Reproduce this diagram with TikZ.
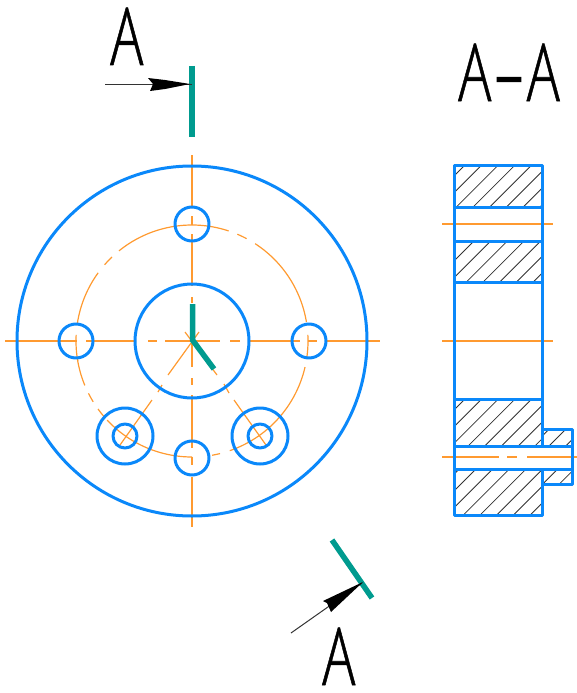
\documentclass[tikz,border=0pt]{standalone}
\usepackage{fontspec}
\setmainfont[FakeBold=0.8]{Open Sans Light}
\newfontfamily\dashfont[FakeBold=2.5]{Open Sans Light}
\definecolor{partblue}{HTML}{0A88FA}
\definecolor{axisorange}{HTML}{FF9A30}
\definecolor{cutteal}{HTML}{009B8F}
\tikzset{
  outline/.style={draw=partblue,line width=3pt,line join=round},
  axisline/.style={draw=axisorange,line width=1.2pt},
  hatchline/.style={draw=black!80,line width=.8pt},
  cutmark/.style={draw=cutteal,line width=5.5pt,line join=round},
  viewline/.style={draw=black!80,line width=1pt},
  letter/.style={anchor=base west,inner sep=0pt,font=\fontsize{80}{80}\selectfont}
}
\newcommand{\pcdarc}[2]{\draw[axisline] plot[domain=#1:#2,samples=30] ({192+116*cos(\x)},{341-116*sin(\x)});}
\newcommand{\hatchbox}[5]{%
  \begin{scope}
    \clip (#1,#2) rectangle (#3,#4);
    \foreach \k in {-5,...,10}{
      \pgfmathsetmacro{\cc}{#5+16.7*\k}
      \draw[hatchline] ({\cc-#2},#2) -- ({\cc-#4},#4);
    }
  \end{scope}}
\begin{document}
\begin{tikzpicture}[x=1pt,y=-1pt]
\useasboundingbox (0,0) rectangle (577,693);
% front view axes
\foreach \a/\b in {5/77,86/135,148/157,165/220,230/240,250/300,308/317,326/380}
  \draw[axisline] (\a,341) -- (\b,341);
\foreach \a/\b in {155/208,216/225,234/286,297/303,341/367,378/385,395/448,457/465,477/527}
  \draw[axisline] (192,\a) -- (192,\b);
% diagonals
\draw[axisline] (199,332) -- (168,375);
\draw[axisline] (162,385) -- (158,392);
\draw[axisline] (152,400) -- (120,445);
\draw[axisline] (185,332) -- (217,375);
\draw[axisline] (224,384) -- (229,393);
\draw[axisline] (234,400) -- (266,445);
% pitch circle
\pcdarc{71.6}{90}
\pcdarc{129}{90}
\pcdarc{133.6}{138.9}
\pcdarc{144}{171}
\pcdarc{177}{190}
\pcdarc{189.5}{202.5}
\pcdarc{206.8}{211.6}
\pcdarc{215.9}{220.5}
\pcdarc{223}{270}
\pcdarc{280}{284}
\pcdarc{289}{347}
\pcdarc{352}{363}
\pcdarc{9.5}{57}
\pcdarc{61.9}{67}
% front view outlines
\draw[outline] (192,341) circle[radius=175pt];
\draw[outline] (192,341) circle[radius=57pt];
\draw[outline] (192,224) circle[radius=17pt];
\draw[outline] (76,341) circle[radius=17pt];
\draw[outline] (309,341) circle[radius=17pt];
\draw[outline] (192,458) circle[radius=17pt];
\draw[outline] (125,436) circle[radius=28pt];
\draw[outline] (125,436) circle[radius=12pt];
\draw[outline] (260,436) circle[radius=28pt];
\draw[outline] (260,436) circle[radius=12pt];
% section hatching
\hatchbox{454}{165}{542}{207}{646.7}
\hatchbox{454}{241}{542}{282}{715}
\hatchbox{454}{399}{542}{446}{880.7}
\hatchbox{454}{469}{542}{515}{945}
\hatchbox{542}{429}{572}{446}{995}
\hatchbox{542}{469}{572}{484}{1026.7}
% section axes
\draw[axisline] (442,224) -- (553,224);
\draw[axisline] (442,341) -- (553,341);
\draw[axisline] (442,457) -- (499,457);
\draw[axisline] (507,457) -- (517,457);
\draw[axisline] (527,457) -- (577,457);
% section outlines
\draw[outline] (542,446) -- (542,165) -- (454,165) -- (454,515) -- (542,515) -- (542,469);
\foreach \yy in {207,241,282,399} \draw[outline] (454,\yy) -- (542,\yy);
\draw[outline] (454,446) -- (572,446);
\draw[outline] (454,469) -- (572,469);
\draw[outline] (542,446) -- (542,429) -- (572,429) -- (572,484) -- (542,484);
% cutting plane marks
\draw[cutmark] (192,66) -- (192,137);
\draw[cutmark] (332,540) -- (372,598);
\draw[cutmark] (192.5,304) -- (192.5,340) -- (214,369);
% view arrows
\draw[viewline] (105,84) -- (192,84);
\fill[black] (190,84) -- (165,89) -- (150,91) -- (153,84) -- (148,78) -- (165,80) -- cycle;
\draw[viewline] (291,633) -- (362,583);
\fill[black] (363,582) -- (331,612) -- (327,603) -- (323,601) -- cycle;
% letters
\node[letter] (topA) at (110,65) {\scalebox{.69}[1]{A}};
\node[letter] (botA) at (322,685) {\scalebox{.69}[1]{A}};
\node[letter] (secA) at (458,101) {\scalebox{.69}[1]{A\kern.07em{\dashfont –}\kern.07em A}};
\end{tikzpicture}
\end{document}
